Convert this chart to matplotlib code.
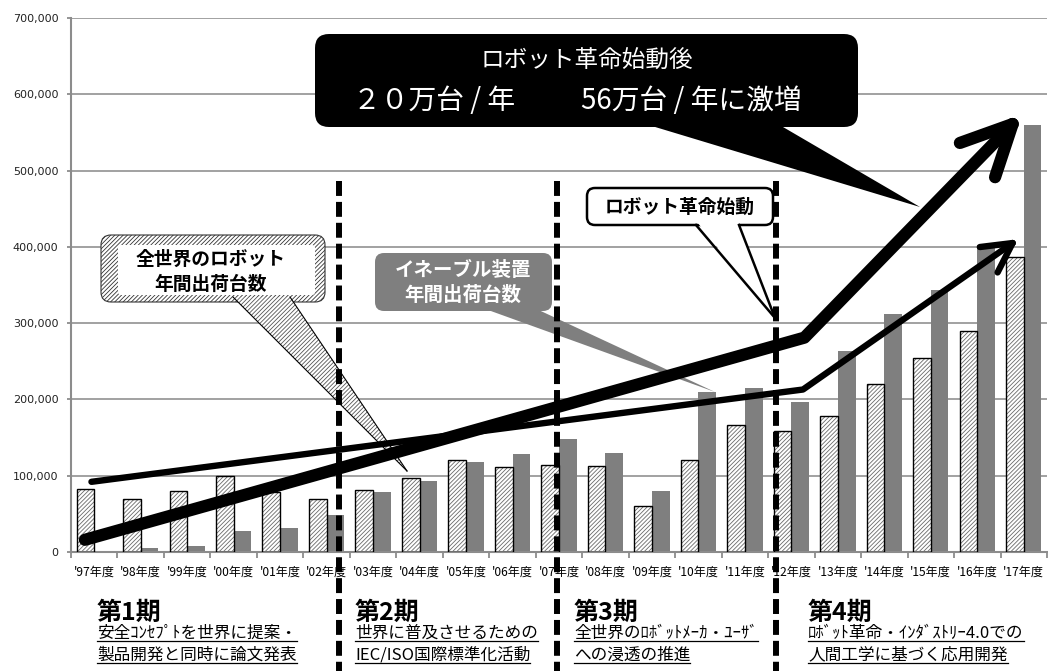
import numpy as np
import matplotlib.pyplot as plt
from matplotlib.patches import FancyBboxPatch, Polygon
from matplotlib.transforms import Affine2D
from matplotlib.lines import Line2D

plt.rcParams['font.family'] = ['Noto Sans CJK JP', 'DejaVu Sans']
plt.rcParams['hatch.linewidth'] = 0.6

# data
years = ["'97年度", "'98年度", "'99年度", "'00年度", "'01年度", "'02年度", "'03年度",
         "'04年度", "'05年度", "'06年度", "'07年度", "'08年度", "'09年度", "'10年度",
         "'11年度", "'12年度", "'13年度", "'14年度", "'15年度", "'16年度", "'17年度"]
world_robots = [82000, 69000, 80000, 99000, 78000, 69000, 81000, 97000, 120000, 111000, 114000,
                113000, 60000, 120000, 166000, 159000, 178000, 220000, 254000, 290000, 387000]
enable_devices = [0, 5000, 8000, 27000, 32000, 48000, 78000, 93000, 118000, 129000, 148000,
                  130000, 80000, 210000, 215000, 197000, 264000, 312000, 343000, 402000, 560000]

# trend arrows (x in category units)
thick_x = [-0.2, 15.28, 19.76]
thick_y = [16000, 281000, 561000]
thin_x = [-0.06, 15.25, 19.76]
thin_y = [92000, 213000, 405000]

# phase boundaries
phase_x = [5.26, 9.95, 14.66]

phase_titles = ['第1期', '第2期', '第3期', '第4期']
phase_lines = [['安全ｺﾝｾﾌﾟﾄを世界に提案・', '製品開発と同時に論文発表'],
               ['世界に普及させるための', 'IEC/ISO国際標準化活動'],
               ['全世界のﾛﾎﾞｯﾄﾒｰｶ・ﾕｰｻﾞ', 'への浸透の推進'],
               ['ﾛﾎﾞｯﾄ革命・ｲﾝﾀﾞｽﾄﾘｰ4.0での', '人間工学に基づく応用開発']]
phase_left = [97, 355, 574, 808]

W, H = 1048, 671
fig = plt.figure(figsize=(W / 100, H / 100), dpi=100)
ax = fig.add_axes([71 / W, (H - 552) / H, (1047 - 71) / W, (552 - 18) / H])

# pixel transforms (pix: origin top-left, pixu: origin bottom-left)
pix = Affine2D().scale(1 / W, -1 / H).translate(0, 1) + fig.transFigure
pixu = Affine2D().scale(1 / W, 1 / H) + fig.transFigure
HATCH = '////////'


def P(x, y):
    return (x, H - y)


x = np.arange(len(years))
bw = 0.38
ax.bar(x - bw / 2, world_robots, bw, color='white', edgecolor='#6a6a6a', hatch=HATCH, lw=0, zorder=2)
ax.bar(x - bw / 2, world_robots, bw, fill=False, edgecolor='black', lw=1, zorder=3)
ax.bar(x + bw / 2, enable_devices, bw, color='#7f7f7f', lw=0, zorder=2)

ax.set_xlim(-0.5, 20.5)
ax.set_ylim(0, 700000)
ax.set_yticks(np.arange(0, 700001, 100000))
ax.set_yticklabels(['{:,}'.format(v) for v in range(0, 700001, 100000)], fontsize=8,
                   family='DejaVu Sans', color='#222222')
ax.set_xticks(np.arange(-0.5, 20.6, 1))
ax.set_xticklabels([])
ax.set_xticks(x, minor=True)
ax.set_xticklabels(years, minor=True, fontsize=8.7)
ax.tick_params(axis='x', which='major', length=4, color='#8c8c8c', width=1.3)
ax.tick_params(axis='x', which='minor', length=0, pad=10)
ax.tick_params(axis='y', length=3, color='#8c8c8c', width=1.3, pad=6)
ax.grid(axis='y', color='#9a9a9a', lw=1.3, zorder=0)
ax.set_axisbelow(True)
for s in ['top', 'right']:
    ax.spines[s].set_visible(False)
for s in ['left', 'bottom']:
    ax.spines[s].set_color('#8c8c8c')
    ax.spines[s].set_linewidth(1.5)


def tail(pts, fc, z, hatch=None, edge=None, elw=1.0):
    pts_u = [P(*p) for p in pts]
    poly = Polygon(pts_u, closed=True, fc=fc, ec=('#555555' if hatch else 'none'), lw=0,
                   hatch=hatch, transform=pixu, zorder=z, clip_on=False)
    ax.add_patch(poly)
    if edge:
        for a in (pts_u[0], pts_u[1]):
            ax.add_line(Line2D([a[0], pts_u[2][0]], [a[1], pts_u[2][1]], color=edge, lw=elw,
                               transform=pixu, zorder=z, clip_on=False))


def rbox(x0, y0, x1, y1, r, fc, ec='none', lw=0, z=4, hatch=None):
    b = FancyBboxPatch((x0, H - y1), x1 - x0, y1 - y0, boxstyle='round,pad=0,rounding_size=%g' % r,
                       fc=fc, ec=ec, lw=lw, hatch=hatch, transform=pixu, zorder=z, clip_on=False)
    ax.add_patch(b)


# hatched callout (world robots)
rbox(101, 235, 325, 302, 10, 'white', ec='#333333', lw=0.8, hatch=HATCH, z=4)
rbox(118, 245, 315, 295, 3, 'white', z=4.1)
tail([(233, 297), (290, 297), (407, 471)], 'white', 4.2, hatch=HATCH, edge='black', elw=0.8)
ax.text(211, 259, '全世界のロボット', transform=pix, ha='center', va='center', fontsize=13.5,
        fontweight='bold', zorder=4.3)
ax.text(211, 284, '年間出荷台数', transform=pix, ha='center', va='center', fontsize=13.5,
        fontweight='bold', zorder=4.3)

# gray callout (enable devices)
rbox(375, 253, 552, 311, 9, '#7f7f7f', z=4)
tail([(477, 306), (530, 306), (715, 392)], '#7f7f7f', 4)
ax.text(463, 270, 'イネーブル装置', transform=pix, ha='center', va='center', fontsize=14,
        fontweight='bold', color='white', zorder=4.3)
ax.text(463, 295, '年間出荷台数', transform=pix, ha='center', va='center', fontsize=14,
        fontweight='bold', color='white', zorder=4.3)


# trend arrows
def arrow(xs, ys, lw, head_len, ang):
    ax.plot(xs, ys, color='black', lw=lw, solid_capstyle='round', solid_joinstyle='round',
            zorder=5, clip_on=False)
    p = ax.transData.transform([(xs[-2], ys[-2]), (xs[-1], ys[-1])])
    d = p[0] - p[1]
    d = d / np.hypot(*d)
    inv = ax.transData.inverted()
    for a in (ang, -ang):
        r = np.radians(a)
        v = np.array([d[0] * np.cos(r) - d[1] * np.sin(r), d[0] * np.sin(r) + d[1] * np.cos(r)])
        q = inv.transform([p[1], p[1] + v * head_len])
        ax.plot(q[:, 0], q[:, 1], color='black', lw=lw, solid_capstyle='round', zorder=5,
                clip_on=False)


arrow(thick_x, thick_y, 8.8, 56, 26)
arrow(thin_x, thin_y, 4.6, 33, 28)

# phase dividers
for px in phase_x:
    ax.plot([px, px], [486000, -160000], color='black', lw=4.3, ls=(0, (2.5, 1.0)),
            dash_capstyle='butt', zorder=6, clip_on=False)

# robot revolution callout
rbox(587, 188, 773, 225, 8, 'white', ec='black', lw=1.8, z=7)
tail([(697, 222), (738, 222), (775, 318)], 'white', 7)
for a in ((696, 225), (739, 225)):
    ax.add_line(Line2D([a[0], 775], [H - a[1], H - 318], color='black', lw=1.8, transform=pixu,
                       zorder=7, clip_on=False))
ax.text(680, 207, 'ロボット革命始動', transform=pix, ha='center', va='center', fontsize=13.5,
        fontweight='bold', zorder=7.5)

# big black callout
rbox(315, 34, 858, 127, 14, 'black', z=7)
tail([(632, 120), (771, 120), (920, 207)], 'black', 7)
ax.text(587, 61, 'ロボット革命始動後', transform=pix, ha='center', va='center', fontsize=17,
        color='white', zorder=7.5)
ax.text(353, 101, '２０万台 / 年', transform=pix, ha='left', va='center', fontsize=20,
        color='white', zorder=7.5)
ax.text(581, 101, '56万台 / 年に激増', transform=pix, ha='left', va='center', fontsize=20,
        color='white', zorder=7.5)

# phase descriptions
desc = []
for i in range(4):
    fig.text(phase_left[i], 613, phase_titles[i], transform=pix, ha='left', va='center',
             fontsize=18, fontweight='bold')
    for j, s in enumerate(phase_lines[i]):
        t = fig.text(phase_left[i], 633 + 22 * j, s, transform=pix, ha='left', va='center',
                     fontsize=12)
        desc.append((t, 633 + 22 * j + 8))

fig.canvas.draw()
r = fig.canvas.get_renderer()
for t, uy in desc:
    bb = t.get_window_extent(r)
    fig.add_artist(Line2D([bb.x0, bb.x1], [H - uy, H - uy], color='black', lw=0.9,
                          transform=pixu))

fig.savefig('out.png', dpi=100)
